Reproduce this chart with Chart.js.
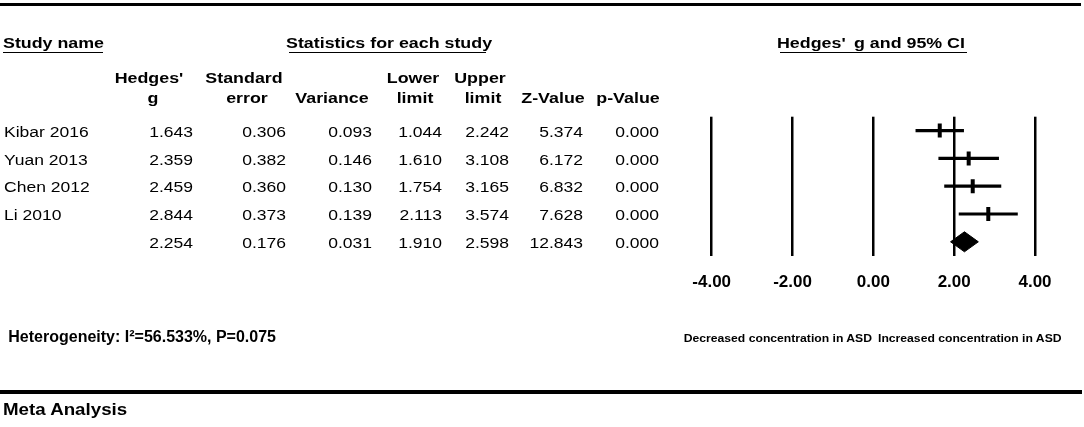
<!DOCTYPE html>
<html>
<head>
<meta charset="utf-8">
<script src="https://cdn.jsdelivr.net/npm/chart.js@4.4.0/dist/chart.umd.min.js"></script>
<style>
html,body{margin:0;padding:0;background:#fff;}
body{width:1084px;height:427px;position:relative;overflow:hidden;font-family:"Liberation Sans",Arial,Helvetica,sans-serif;color:#000;}
#wrap{position:absolute;left:0;top:0;width:1084px;height:427px;}
#txt{position:absolute;left:0;top:0;width:1084px;height:427px;}
.t{position:absolute;white-space:pre;}
.rule{position:absolute;background:#000;}
</style>
</head>
<body>
<div id="wrap"><canvas id="c" width="1084" height="427"></canvas></div>
<div id="txt"></div>
<script>
// ---- data (last row = pooled estimate) ----
const studyNames = ['Kibar 2016', 'Yuan 2013', 'Chen 2012', 'Li 2010', ''];
const hedgesG    = [1.643, 2.359, 2.459, 2.844, 2.254];
const stdErr     = [0.306, 0.382, 0.360, 0.373, 0.176];
const variance   = [0.093, 0.146, 0.130, 0.139, 0.031];
const lowerLimit = [1.044, 1.610, 1.754, 2.113, 1.910];
const upperLimit = [2.242, 3.108, 3.165, 3.574, 2.598];
const zValue     = [5.374, 6.172, 6.832, 7.628, 12.843];
const pValue     = [0.000, 0.000, 0.000, 0.000, 0.000];
const columnHeaders = [["Hedges'", 'g'], ['Standard', 'error'], ['', 'Variance'], ['Lower', 'limit'], ['Upper', 'limit'], ['', 'Z-Value'], ['', 'p-Value']];
const xTickValues = [-4, -2, 0, 2, 4];
const xTickLabels = ['-4.00', '-2.00', '0.00', '2.00', '4.00'];
const heterogeneityText = 'Heterogeneity: I\u00b2=56.533%, P=0.075';
const leftDirection = 'Decreased concentration in ASD';
const rightDirection = 'Increased concentration in ASD';

// ---- layout constants ----
const FONT = '"Liberation Sans", Arial, Helvetica, sans-serif';
const txt = document.getElementById('txt');
function put(str, x, base, size, bold, align, sx) {
  const d = document.createElement('div');
  d.className = 't';
  d.textContent = str;
  d.style.fontSize = size + 'px';
  d.style.lineHeight = size + 'px';
  d.style.fontWeight = bold ? 'bold' : 'normal';
  d.style.top = (base - 0.8465 * size) + 'px';
  d.style.left = x + 'px';
  if (align === 'left') { d.style.transformOrigin = 'left center'; d.style.transform = 'scaleX(' + sx + ')'; }
  else if (align === 'right') { d.style.transformOrigin = 'right center'; d.style.transform = 'translateX(-100%) scaleX(' + sx + ')'; }
  else { d.style.transformOrigin = 'center center'; d.style.transform = 'translateX(-50%) scaleX(' + sx + ')'; }
  txt.appendChild(d);
}
function rule(x, y, w, h) {
  const d = document.createElement('div');
  d.className = 'rule';
  d.style.left = x + 'px'; d.style.top = y + 'px';
  d.style.width = w + 'px'; d.style.height = h + 'px';
  txt.appendChild(d);
}

// rules
rule(0, 2.8, 1081, 3.5);
rule(0, 390, 1082, 3.7);
// section titles
const HB = 15.5, HSX = 1.15;
put('Study name', 3.3, 48.3, HB, true, 'left', HSX); rule(3.3, 51.6, 100, 1.6);
put('Statistics for each study', 285.8, 48.3, HB, true, 'left', HSX); rule(289, 51.6, 197, 1.6);
put("Hedges'", 777.3, 48.3, HB, true, 'left', HSX);
put('g and 95% CI', 854, 48.3, HB, true, 'left', HSX); rule(780, 51.6, 187, 1.6);

// column headers
const hdrCenters1 = [148.8, 244, 0, 412.7, 480.3, 0, 0];
const hdrCenters2 = [153, 247, 332, 415, 483, 553, 627.5];
columnHeaders.forEach((h, i) => {
  if (h[0]) put(h[0], hdrCenters1[i], 83, HB, true, 'center', HSX);
  if (h[1]) put(h[1], hdrCenters2[i], 103, HB, true, 'center', HSX);
});

// table body
const colRight = [193, 286, 372, 442, 508.7, 583.3, 659.3];
const colData = [hedgesG, stdErr, variance, lowerLimit, upperLimit, zValue, pValue];
const RB = 15.5, RSX = 1.13;
studyNames.forEach((name, r) => {
  const base = 137.5 + 27.55 * r;
  if (name) put(name, 4, base, RB, false, 'left', RSX);
  colData.forEach((col, c) => put(col[r].toFixed(3), colRight[c], base, RB, false, 'right', RSX));
});

// footer texts
put(heterogeneityText, 8.3, 342.3, 16, true, 'left', 1.0);
put(leftDirection, 872, 341.7, 11.6, true, 'right', 1.05);
put(rightDirection, 878, 341.7, 11.6, true, 'left', 1.05);
put('Meta Analysis', 3.3, 415, 16.3, true, 'left', 1.15);

// ---- forest plot ----
const nRows = studyNames.length;
const pooled = nRows - 1;
const diamondHalf = 0.36;
const ciDatasets = studyNames.slice(0, pooled).map((n, i) => ({
  label: n + ' 95% CI',
  data: [{x: lowerLimit[i], y: i + 1}, {x: upperLimit[i], y: i + 1}],
  showLine: true, borderColor: '#000', borderWidth: 3.2, pointRadius: 0, borderCapStyle: 'butt'
}));
const markerDataset = {
  label: "Hedges' g",
  data: hedgesG.slice(0, pooled).map((g, i) => ({x: g, y: i + 1})),
  showLine: false, pointStyle: 'line', rotation: 90, pointRadius: 7, pointHoverRadius: 7,
  borderWidth: 4, borderColor: '#000', backgroundColor: '#000'
};
const yp = pooled + 1;
const diamondDataset = {
  label: 'Pooled',
  data: [
    {x: lowerLimit[pooled], y: yp},
    {x: hedgesG[pooled], y: yp - diamondHalf},
    {x: upperLimit[pooled], y: yp},
    {x: hedgesG[pooled], y: yp + diamondHalf},
    {x: lowerLimit[pooled], y: yp}
  ],
  showLine: true, fill: 'shape', backgroundColor: '#000', borderColor: '#000', borderWidth: 1, pointRadius: 0, tension: 0
};

new Chart(document.getElementById('c'), {
  type: 'scatter',
  data: { datasets: [...ciDatasets, markerDataset, diamondDataset] },
  options: {
    responsive: false,
    animation: false,
    events: [],
    layout: { padding: { left: 711.7, right: 49, top: 116.7, bottom: 121.3 } },
    plugins: { legend: { display: false }, tooltip: { enabled: false } },
    scales: {
      x: {
        type: 'linear', min: xTickValues[0], max: xTickValues[xTickValues.length - 1],
        afterBuildTicks: s => { s.ticks = xTickValues.map(v => ({ value: v })); },
        afterFit: s => { s.height = 50; },
        ticks: {
          autoSkip: false, maxRotation: 0, padding: 16, color: '#000',
          font: { family: FONT, size: 17, weight: 'bold' },
          callback: (v, i) => xTickLabels[i]
        },
        grid: { color: '#000', lineWidth: 2.5, drawTicks: false },
        border: { display: false }
      },
      y: { type: 'linear', display: false, reverse: true, min: 0.5, max: nRows + 0.5 }
    }
  }
});
</script>
</body>
</html>
